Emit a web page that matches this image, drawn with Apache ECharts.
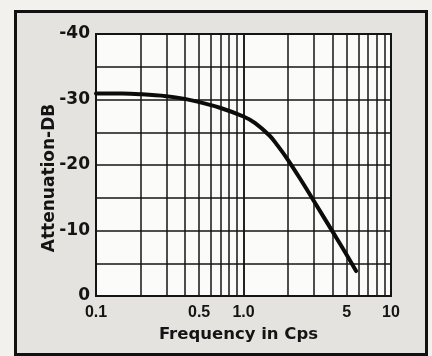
<!DOCTYPE html>
<html>
<head>
<meta charset="utf-8">
<script src="https://cdn.jsdelivr.net/npm/echarts@6/dist/echarts.min.js"></script>
<style>
  html, body { margin: 0; padding: 0; background: #f2f1ed; }
  #chart { width: 432px; height: 356px; }
</style>
</head>
<body>
<div id="chart"></div>
<script>
// Attenuation (dB) of the filter versus frequency (cycles per second)
const frequency = [0.1, 0.15, 0.2, 0.3, 0.4, 0.5, 0.7, 1.0, 1.2, 1.5, 1.7, 2.0, 2.5, 3.0, 4.0, 5.0, 5.8];
const attenuation = [-30.9, -30.9, -30.8, -30.5, -30.1, -29.6, -28.7, -27.4, -26.4, -24.5, -23.0, -20.8, -17.4, -14.5, -9.9, -6.3, -3.8];

// Vertical rulings of the log paper and the frequency tick labels
const gridFreqs = [0.2, 0.3, 0.4, 0.5, 0.6, 0.7, 0.8, 0.9, 1, 2, 3, 4, 5, 6, 7, 8, 9];
const xTickValues = [0.1, 0.5, 1.0, 5, 10];
const xTickLabels = ['0.1', '0.5', '1.0', '5', '10'];

const yMin = -40, yMax = 0, yStep = 5, yLabelStep = 10;

const chart = echarts.init(document.getElementById('chart'), null, { renderer: 'canvas' });

const ink = '#141414';
const boldFont = '"DejaVu Sans", sans-serif';
const tickFont = '"Liberation Sans", Arial, sans-serif';

const rulings = gridFreqs.map(f => ({ xAxis: f, label: { show: false } }));
const tickLabels = xTickValues.map((v, i) => ({
  xAxis: v,
  lineStyle: { color: 'rgba(0,0,0,0)', width: 0 },
  label: {
    show: true, position: 'end', distance: 9,
    formatter: xTickLabels[i],
    color: ink, fontFamily: tickFont, fontWeight: 'bold', fontSize: 16
  }
}));

chart.setOption({
  backgroundColor: '#f2f1ed',
  animation: false,
  graphic: [{
    type: 'rect', z: -10,
    shape: { x: 15.5, y: 11.5, width: 411, height: 343 },
    style: { fill: '#e4e3df', stroke: '#111', lineWidth: 3 }
  }],
  grid: {
    left: 96, right: 41, top: 34, bottom: 60,
    show: true, backgroundColor: '#fbfbf9', borderColor: ink, borderWidth: 2
  },
  xAxis: {
    type: 'log', logBase: 10, min: 0.1, max: 10,
    axisLine: { show: false }, axisTick: { show: false },
    axisLabel: { show: false },
    splitLine: { show: true, lineStyle: { color: ink, width: 1.5 } },
    minorSplitLine: { show: false },
    name: 'Frequency in Cps', nameLocation: 'middle', nameGap: 30,
    nameTextStyle: { color: ink, fontFamily: boldFont, fontWeight: 'bold', fontSize: 16.5, padding: [0, 10, 0, 0] }
  },
  yAxis: {
    type: 'value', min: yMin, max: yMax, interval: yStep, inverse: true,
    axisLine: { show: false }, axisTick: { show: false },
    axisLabel: {
      margin: 6, color: ink, fontFamily: boldFont, fontWeight: 'bold', fontSize: 17,
      formatter: v => (v % yLabelStep === 0 ? String(v) : '')
    },
    splitLine: { show: true, lineStyle: { color: ink, width: 1.5 } },
    name: 'Attenuation-DB', nameLocation: 'middle', nameGap: 38, nameRotate: 90,
    nameMoveOverlap: false,
    nameTextStyle: { color: ink, fontFamily: boldFont, fontWeight: 'bold', fontSize: 17, padding: [0, 26, 0, 0] }
  },
  series: [{
    type: 'line',
    data: frequency.map((f, i) => [f, attenuation[i]]),
    smooth: 0.4,
    showSymbol: false,
    lineStyle: { color: '#0c0c0c', width: 4, cap: 'round' },
    z: 5,
    markLine: {
      silent: true, symbol: 'none', animation: false,
      lineStyle: { color: ink, width: 1.5, type: 'solid' },
      data: rulings.concat(tickLabels)
    }
  }]
});
</script>
</body>
</html>
